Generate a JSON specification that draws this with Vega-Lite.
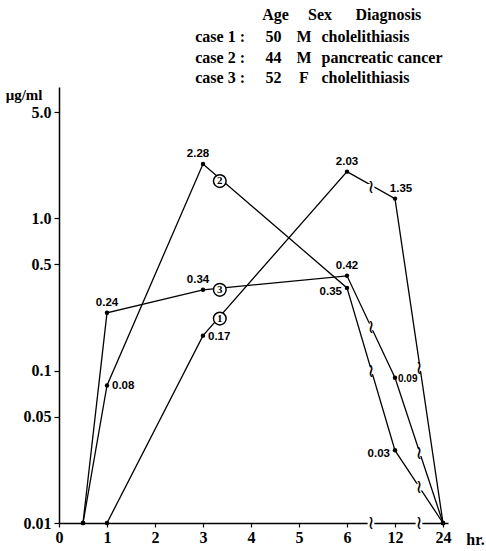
{
  "$schema": "https://vega.github.io/schema/vega-lite/v6.json",
  "padding": {"left": 5, "top": 7, "right": 0, "bottom": 0},
  "spacing": 1,
  "background": "white",
  "config": {
    "view": {"stroke": null},
    "font": "Liberation Serif",
    "text": {"color": "black"}
  },
  "datasets": {
    "cases": [
      {"case": "case 1 :", "age": "50", "sex": "M", "diagnosis": "cholelithiasis"},
      {"case": "case 2 :", "age": "44", "sex": "M", "diagnosis": "pancreatic cancer"},
      {"case": "case 3 :", "age": "52", "sex": "F", "diagnosis": "cholelithiasis"}
    ],
    "series": [
      {"case": 1, "t": 1, "v": 0.01},
      {"case": 1, "t": 3, "v": 0.17},
      {"case": 1, "t": 6, "v": 2.03},
      {"case": 1, "t": 12, "v": 1.35},
      {"case": 1, "t": 24, "v": 0.01},
      {"case": 2, "t": 0.5, "v": 0.01},
      {"case": 2, "t": 1, "v": 0.08},
      {"case": 2, "t": 3, "v": 2.28},
      {"case": 2, "t": 6, "v": 0.35},
      {"case": 2, "t": 12, "v": 0.03},
      {"case": 2, "t": 24, "v": 0.01},
      {"case": 3, "t": 0.5, "v": 0.01},
      {"case": 3, "t": 1, "v": 0.24},
      {"case": 3, "t": 3, "v": 0.34},
      {"case": 3, "t": 6, "v": 0.42},
      {"case": 3, "t": 12, "v": 0.09},
      {"case": 3, "t": 24, "v": 0.01}
    ],
    "breaks": [
      {"t": 9, "v": 1.6},
      {"t": 18, "v": 0.105},
      {"t": 9, "v": 0.1},
      {"t": 18, "v": 0.0172},
      {"t": 9, "v": 0.194},
      {"t": 18, "v": 0.029},
      {"t": 9, "v": 0.01},
      {"t": 18, "v": 0.01}
    ],
    "tags": [
      {"n": "1", "t": 3.35, "v": 0.22},
      {"n": "2", "t": 3.35, "v": 1.76},
      {"n": "3", "t": 3.35, "v": 0.34}
    ]
  },
  "vconcat": [
    {
      "width": 389,
      "height": 61,
      "data": {"name": "cases"},
      "layer": [
        {
          "mark": {"type": "text", "align": "right", "baseline": "middle", "fontSize": 16, "fontWeight": "bold"},
          "encoding": {
            "x": {"datum": "case", "type": "nominal", "scale": {"type": "point", "domain": ["case", "age", "sex", "diagnosis"], "range": [186, 271.5], "padding": 0}, "axis": null},
            "y": {"field": "case", "type": "nominal", "scale": {"type": "point", "domain": ["hdr", "case 1 :", "case 2 :", "case 3 :"], "padding": 0}, "axis": null},
            "text": {"field": "case"}
          }
        },
        {
          "mark": {"type": "text", "align": "center", "baseline": "middle", "fontSize": 16, "fontWeight": "bold"},
          "encoding": {
            "x": {"datum": "age", "type": "nominal"},
            "y": {"field": "case", "type": "nominal"},
            "text": {"field": "age"}
          }
        },
        {
          "mark": {"type": "text", "align": "center", "baseline": "middle", "fontSize": 16, "fontWeight": "bold", "dx": 2},
          "encoding": {
            "x": {"datum": "sex", "type": "nominal"},
            "y": {"field": "case", "type": "nominal"},
            "text": {"field": "sex"}
          }
        },
        {
          "mark": {"type": "text", "align": "left", "baseline": "middle", "fontSize": 16, "fontWeight": "bold", "dx": -9},
          "encoding": {
            "x": {"datum": "diagnosis", "type": "nominal"},
            "y": {"field": "case", "type": "nominal"},
            "text": {"field": "diagnosis"}
          }
        },
        {
          "transform": [{"filter": "datum.case == 'case 1 :'"}],
          "mark": {"type": "text", "align": "center", "baseline": "middle", "fontSize": 16, "fontWeight": "bold", "dx": 2, "dy": -2},
          "encoding": {
            "x": {"datum": "age", "type": "nominal"},
            "y": {"datum": "hdr", "type": "nominal"},
            "text": {"value": "Age"}
          }
        },
        {
          "transform": [{"filter": "datum.case == 'case 1 :'"}],
          "mark": {"type": "text", "align": "center", "baseline": "middle", "fontSize": 16, "fontWeight": "bold", "dx": 18, "dy": -2},
          "encoding": {
            "x": {"datum": "sex", "type": "nominal"},
            "y": {"datum": "hdr", "type": "nominal"},
            "text": {"value": "Sex"}
          }
        },
        {
          "transform": [{"filter": "datum.case == 'case 1 :'"}],
          "mark": {"type": "text", "align": "left", "baseline": "middle", "fontSize": 16, "fontWeight": "bold", "dx": 25, "dy": -2},
          "encoding": {
            "x": {"datum": "diagnosis", "type": "nominal"},
            "y": {"datum": "hdr", "type": "nominal"},
            "text": {"value": "Diagnosis"}
          }
        }
      ]
    },
    {
      "width": 389,
      "height": 436,
      "encoding": {
        "x": {
          "field": "t", "type": "quantitative",
          "scale": {"domain": [0, 6, 12, 24, 25.25], "range": [0, 288, 336, 384, 389], "nice": false, "zero": false},
          "axis": {
            "values": [0, 1, 2, 3, 4, 5, 6, 12, 24],
            "title": "hr.", "grid": false,
            "labelFont": "Liberation Serif", "labelFontSize": 16, "labelFontWeight": "bold", "labelColor": "black",
            "labelFlush": false, "labelPadding": 2,
            "domainColor": "black", "domainWidth": 1.5, "tickColor": "black", "tickSize": 4, "tickWidth": 1.2,
            "titleFont": "Liberation Serif", "titleFontSize": 16, "titleFontWeight": "bold", "titleColor": "black",
            "titleX": 416, "titleY": 16, "titleAlign": "center", "titleBaseline": "middle", "titleAnchor": null
          }
        },
        "y": {
          "field": "v", "type": "quantitative",
          "scale": {"type": "log", "domain": [0.01, 7.3], "nice": false},
          "axis": {
            "values": [0.01, 0.05, 0.1, 0.5, 1, 5],
            "labelExpr": "datum.value >= 1 ? format(datum.value, '.1f') : format(datum.value, '~g')",
            "title": "μg/ml", "grid": false,
            "labelFont": "Liberation Serif", "labelFontSize": 16, "labelFontWeight": "bold", "labelColor": "black",
            "labelPadding": 3,
            "domainColor": "black", "domainWidth": 1.5, "tickColor": "black", "tickSize": 5, "tickWidth": 1.2,
            "titleFont": "Liberation Serif", "titleFontSize": 15, "titleFontWeight": "bold", "titleColor": "black",
            "titleAngle": 0, "titleAlign": "right", "titleBaseline": "middle", "titleX": -17, "titleY": 7
          }
        }
      },
      "layer": [
        {
          "data": {"name": "series"},
          "mark": {"type": "line", "color": "black", "strokeWidth": 1.3},
          "encoding": {"detail": {"field": "case", "type": "nominal"}}
        },
        {
          "data": {"name": "breaks"},
          "mark": {"type": "point", "shape": "square", "filled": true, "color": "white", "size": 45, "opacity": 1},
          "encoding": {}
        },
        {
          "data": {"name": "breaks"},
          "mark": {"type": "text", "text": "≀", "font": "DejaVu Sans", "fontSize": 19, "align": "center", "baseline": "middle"},
          "encoding": {}
        },
        {
          "data": {"name": "series"},
          "mark": {"type": "circle", "color": "black", "size": 20, "opacity": 1},
          "encoding": {}
        },
        {
          "data": {"name": "tags"},
          "mark": {"type": "point", "shape": "circle", "filled": false, "fill": "white", "stroke": "black", "strokeWidth": 1.5, "size": 160, "opacity": 1},
          "encoding": {}
        },
        {
          "data": {"name": "tags"},
          "mark": {"type": "text", "fontSize": 11, "fontWeight": "bold", "align": "center", "baseline": "middle", "font": "Liberation Serif"},
          "encoding": {"text": {"field": "n"}}
        },
        {
          "data": {"name": "series"},
          "transform": [{"filter": "(datum.case == 1 && datum.t == 6) || (datum.case == 3 && datum.t == 6) || (datum.case == 3 && datum.t == 1)"}],
          "mark": {"type": "text", "font": "Liberation Sans", "fontSize": 11.5, "fontWeight": "bold", "align": "center", "baseline": "middle", "dy": -10},
          "encoding": {"text": {"field": "v", "format": ".2f"}}
        },
        {
          "data": {"name": "series"},
          "transform": [{"filter": "(datum.case == 2 && datum.t == 3) || (datum.case == 3 && datum.t == 3)"}],
          "mark": {"type": "text", "font": "Liberation Sans", "fontSize": 11.5, "fontWeight": "bold", "align": "center", "baseline": "middle", "dx": -5, "dy": -10},
          "encoding": {"text": {"field": "v", "format": ".2f"}}
        },
        {
          "data": {"name": "series"},
          "transform": [{"filter": "datum.case == 1 && datum.t == 12"}],
          "mark": {"type": "text", "font": "Liberation Sans", "fontSize": 11.5, "fontWeight": "bold", "align": "center", "baseline": "middle", "dx": 6, "dy": -10},
          "encoding": {"text": {"field": "v", "format": ".2f"}}
        },
        {
          "data": {"name": "series"},
          "transform": [{"filter": "(datum.case == 2 && datum.t == 1) || (datum.case == 1 && datum.t == 3)"}],
          "mark": {"type": "text", "font": "Liberation Sans", "fontSize": 11.5, "fontWeight": "bold", "align": "left", "baseline": "middle", "dx": 5, "dy": 1},
          "encoding": {"text": {"field": "v", "format": ".2f"}}
        },
        {
          "data": {"name": "series"},
          "transform": [{"filter": "datum.case == 3 && datum.t == 12"}],
          "mark": {"type": "text", "font": "Liberation Sans", "fontSize": 10, "fontWeight": "bold", "align": "left", "baseline": "middle", "dx": 3, "dy": 1},
          "encoding": {"text": {"field": "v", "format": ".2f"}}
        },
        {
          "data": {"name": "series"},
          "transform": [{"filter": "(datum.case == 2 && datum.t == 6) || (datum.case == 2 && datum.t == 12)"}],
          "mark": {"type": "text", "font": "Liberation Sans", "fontSize": 11.5, "fontWeight": "bold", "align": "right", "baseline": "middle", "dx": -5, "dy": 4},
          "encoding": {"text": {"field": "v", "format": ".2f"}}
        }
      ]
    }
  ]
}
